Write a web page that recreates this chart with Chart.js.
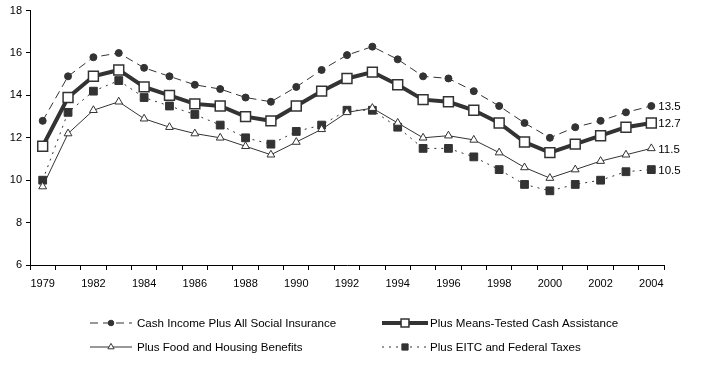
<!DOCTYPE html>
<html>
<head>
<meta charset="utf-8">
<script src="https://cdn.jsdelivr.net/npm/chart.js@4/dist/chart.umd.min.js"></script>
<style>
  html, body { margin: 0; padding: 0; background: #fff; }
  #wrap { width: 702px; height: 367px; position: relative; }
</style>
</head>
<body>
<div id="wrap"><canvas id="myChart" width="702" height="367"></canvas></div>
<script>
const years = ['1979', '1981', '1982', '1983', '1984', '1985', '1986', '1987', '1988', '1989', '1990',
  '1991', '1992', '1993', '1994', '1995', '1996', '1997', '1998', '1999', '2000', '2001', '2002', '2003', '2004'];

const cashIncome = [12.8, 14.9, 15.8, 16.0, 15.3, 14.9, 14.5, 14.3, 13.9, 13.7, 14.4, 15.2, 15.9,
  16.3, 15.7, 14.9, 14.8, 14.2, 13.5, 12.7, 12.0, 12.5, 12.8, 13.2, 13.5];
const meansTested = [11.6, 13.9, 14.9, 15.2, 14.4, 14.0, 13.6, 13.5, 13.0, 12.8, 13.5, 14.2, 14.8,
  15.1, 14.5, 13.8, 13.7, 13.3, 12.7, 11.8, 11.3, 11.7, 12.1, 12.5, 12.7];
const foodHousing = [9.7, 12.2, 13.3, 13.7, 12.9, 12.5, 12.2, 12.0, 11.6, 11.2, 11.8, 12.4, 13.2,
  13.4, 12.7, 12.0, 12.1, 11.9, 11.3, 10.6, 10.1, 10.5, 10.9, 11.2, 11.5];
const eitcTaxes = [10.0, 13.2, 14.2, 14.7, 13.9, 13.5, 13.1, 12.6, 12.0, 11.7, 12.3, 12.6, 13.3,
  13.3, 12.5, 11.5, 11.5, 11.1, 10.5, 9.8, 9.5, 9.8, 10.0, 10.4, 10.5];

const endLabels = ['13.5', '12.7', '11.5', '10.5'];
const seriesNames = ['Cash Income Plus All Social Insurance', 'Plus Means-Tested Cash Assistance',
  'Plus Food and Housing Benefits', 'Plus EITC and Federal Taxes'];

const ink = '#333333';
const font = { family: '"Liberation Sans", Arial, sans-serif', size: 11 };

// end-of-line value labels
const endLabelPlugin = {
  id: 'endLabels',
  afterDatasetsDraw(chart) {
    const ctx = chart.ctx;
    ctx.save();
    ctx.fillStyle = '#000';
    ctx.font = '11.5px "Liberation Sans", Arial, sans-serif';
    ctx.textBaseline = 'middle';
    chart.data.datasets.forEach((ds, i) => {
      const pts = chart.getDatasetMeta(i).data;
      const p = pts[pts.length - 1];
      ctx.fillText(endLabels[i], p.x + 7, p.y + 1);
    });
    ctx.restore();
  }
};

// legend with line + marker samples, 2 columns
const legendPlugin = {
  id: 'lineLegend',
  afterDraw(chart) {
    const ctx = chart.ctx;
    const cols = [{ x0: 90, x1: 132, tx: 137 }, { x0: 382, x1: 428, tx: 430 }];
    const rows = [323, 347];
    ctx.save();
    chart.data.datasets.forEach((ds, k) => {
      const c = cols[k % 2];
      const y = rows[Math.floor(k / 2)];
      ctx.strokeStyle = ds.borderColor;
      ctx.lineWidth = ds.borderWidth;
      ctx.setLineDash(ds.borderDash || []);
      ctx.beginPath();
      ctx.moveTo(c.x0, y);
      ctx.lineTo(c.x1, y);
      ctx.stroke();
      ctx.setLineDash([]);
      ctx.fillStyle = ds.pointBackgroundColor;
      ctx.strokeStyle = ds.pointBorderColor;
      ctx.lineWidth = ds.pointBorderWidth;
      Chart.helpers.drawPoint(ctx, {
        pointStyle: ds.pointStyle,
        radius: ds.pointRadius * 0.8,
        rotation: 0,
        borderWidth: ds.pointBorderWidth
      }, (c.x0 + c.x1) / 2, y);
      ctx.fillStyle = '#000';
      ctx.font = '11.6px "Liberation Sans", Arial, sans-serif';
      ctx.textBaseline = 'middle';
      ctx.fillText(seriesNames[k], c.tx, y + 1);
    });
    ctx.restore();
  }
};

const ctx = document.getElementById('myChart').getContext('2d');
// eslint-disable-next-line no-unused-vars
const chart = new Chart(ctx, {
  type: 'line',
  data: {
    labels: years,
    datasets: [{
      label: seriesNames[0],
      data: cashIncome,
      borderColor: ink,
      borderWidth: 1,
      borderDash: [8, 5],
      pointStyle: 'circle',
      pointRadius: 3.5,
      pointBackgroundColor: ink,
      pointBorderColor: ink,
      pointBorderWidth: 1,
    },
    {
      label: seriesNames[1],
      data: meansTested,
      borderColor: ink,
      borderWidth: 4,
      pointStyle: 'rect',
      pointRadius: 7,
      pointBackgroundColor: '#fff',
      pointBorderColor: ink,
      pointBorderWidth: 1.5,
    },
    {
      label: seriesNames[2],
      data: foodHousing,
      borderColor: ink,
      borderWidth: 1,
      pointStyle: 'triangle',
      pointRadius: 4.5,
      pointBackgroundColor: '#fff',
      pointBorderColor: ink,
      pointBorderWidth: 1,
    },
    {
      label: seriesNames[3],
      data: eitcTaxes,
      borderColor: ink,
      borderWidth: 1,
      borderDash: [2, 5],
      pointStyle: 'rect',
      pointRadius: 5.5,
      pointBackgroundColor: ink,
      pointBorderColor: ink,
      pointBorderWidth: 1,
    }]
  },
  options: {
    responsive: false,
    animation: false,
    layout: { padding: { left: 0, right: 38, top: 6, bottom: 77 } },
    plugins: {
      legend: { display: false },
      tooltip: { enabled: false }
    },
    elements: { line: { tension: 0 } },
    scales: {
      x: {
        offset: true,
        border: { display: true, color: '#000', width: 1 },
        grid: { offset: true, drawOnChartArea: false, drawTicks: true, tickLength: 5, color: '#000' },
        ticks: {
          autoSkip: false,
          maxRotation: 0,
          color: '#000',
          font: font,
          padding: 7,
          callback: function(v, i) { return i % 2 === 0 ? years[i] : ''; }
        },
        afterFit: function(s) { s.height = 25; }
      },
      y: {
        min: 6,
        max: 18,
        border: { display: true, color: '#000', width: 1 },
        grid: { drawOnChartArea: false, drawTicks: true, tickLength: 4, color: '#000' },
        ticks: { stepSize: 2, color: '#000', font: font, padding: 4 },
        afterFit: function(s) { s.width = 30; }
      }
    }
  },
  plugins: [endLabelPlugin, legendPlugin]
});
</script>
</body>
</html>
